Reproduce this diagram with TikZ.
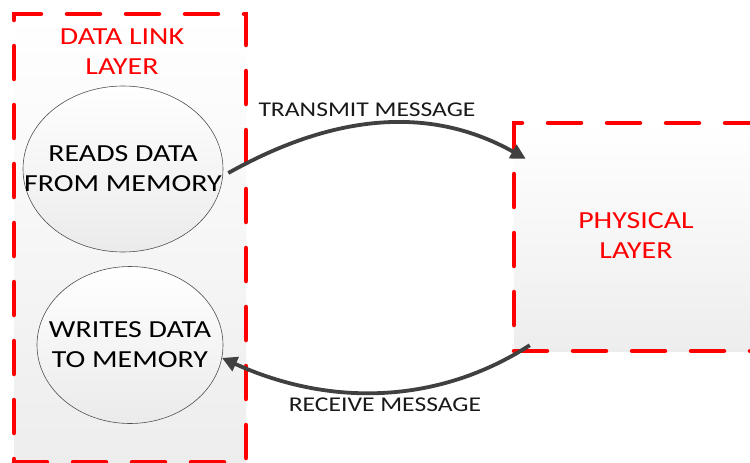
\documentclass[tikz,border=0pt]{standalone}
\usepackage{fontspec}
\setmainfont{Carlito}[FakeStretch=1.22]
\usetikzlibrary{arrows.meta,shapes.geometric}
\definecolor{layerred}{HTML}{FF0000}
\definecolor{arrowgray}{HTML}{404040}
\definecolor{edgegray}{HTML}{505050}

\begin{document}
\begin{tikzpicture}[x=1pt,y=-1pt,
  layerbox/.style={draw=layerred, line width=4.5pt, dash pattern=on 33pt off 26pt,
    line cap=round, top color=white, bottom color=black!7, inner sep=0pt},
  task/.style={ellipse, draw=edgegray, line width=0.6pt, top color=white,
    bottom color=black!8, inner sep=0pt},
  tasktext/.style={align=center, font=\fontsize{24.5}{30}\selectfont},
  layertitle/.style={text=layerred, align=center, font=\fontsize{24.5}{30}\selectfont},
  msglabel/.style={font=\fontsize{21}{24}\selectfont, text=black!90},
  msgarrow/.style={draw=arrowgray, line width=3.8pt,
    -{Triangle[length=15pt,width=15pt]}}
]
\clip (0,0) rectangle (750,463);
\fill[white] (0,0) rectangle (750,463);

% the two layers
\node[layerbox, minimum width=232pt, minimum height=448pt] (dll) at (130,238) {};
\node[layerbox, minimum width=244pt, minimum height=228pt] (phys) at (636,237) {};
\node[layertitle] (dlltitle) at (122,52) {DATA LINK\\LAYER};
\node[layertitle] (phystitle) at (636,236) {PHYSICAL\\LAYER};

% tasks of the data link layer
\node[task, minimum width=200pt, minimum height=166pt] (read) at (123,169) {};
\node[tasktext] (readtext) at (read.center) {READS DATA\\FROM MEMORY};
\node[task, minimum width=186pt, minimum height=157pt] (write) at (130,345) {};
\node[tasktext] (writetext) at (write.center) {WRITES DATA\\TO MEMORY};

% message flow between the layers
\draw[msgarrow] ([shift={(5,4)}]read.east) .. controls +(100,-56) and +(-100,-56) .. ([shift={(14,38)}]phys.north west);
\draw[msgarrow] ([shift={(18,-8)}]phys.south west) .. controls +(-90,58) and +(110,50) .. (write.-8);

\node[msglabel] (txlabel) at (367,110) {TRANSMIT MESSAGE};
\node[msglabel] (rxlabel) at (385,405) {RECEIVE MESSAGE};
\end{tikzpicture}
\end{document}
